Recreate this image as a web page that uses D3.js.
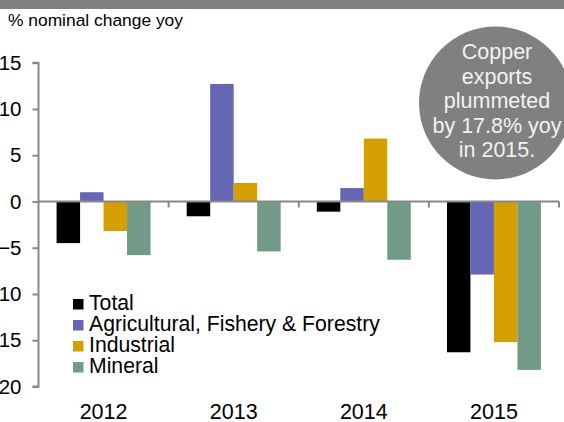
<!DOCTYPE html>
<html>
<head>
<meta charset="utf-8">
<script src="https://cdn.jsdelivr.net/npm/d3@7"></script>
<style>
  html, body { margin: 0; padding: 0; background: #fff; }
  svg { display: block; font-family: "Liberation Sans", Arial, sans-serif; }
</style>
</head>
<body>
<svg id="chart" width="564" height="422"></svg>
<script>
const years = ["2012", "2013", "2014", "2015"];
const seriesNames = ["Total", "Agricultural, Fishery & Forestry", "Industrial", "Mineral"];
const totalValues = [-4.5, -1.6, -1.1, -16.3];
const agriValues = [1.0, 12.7, 1.45, -7.9];
const industrialValues = [-3.2, 2.0, 6.8, -15.2];
const mineralValues = [-5.8, -5.4, -6.3, -18.2];
const yTicks = [15, 10, 5, 0, -5, -10, -15, -20];
const colors = ["#000000", "#6566b4", "#d49f00", "#729a88"];
const subtitle = "% nominal change yoy";
const noteLines = ["Copper", "exports", "plummeted", "by 17.8% yoy", "in 2015."];

const seriesValues = [totalValues, agriValues, industrialValues, mineralValues];

const svg = d3.select("#chart");

// top banner strip
svg.append("rect").attr("x", 0).attr("y", 0).attr("width", 564).attr("height", 9).attr("fill", "#808080");

svg.append("text").attr("x", 8).attr("y", 26).attr("font-size", 17.4).attr("fill", "#000").text(subtitle);

const x0 = d3.scaleBand().domain(years).range([38.5, 559]).padding(0);
const x1 = d3.scaleBand().domain(d3.range(seriesNames.length)).range([0, x0.bandwidth()]).paddingInner(0).paddingOuter(0.77);
const y = d3.scaleLinear().domain([-20, 15]).range([386.5, 62.7]);

// bars
years.forEach((yr, i) => {
  seriesValues.forEach((vals, s) => {
    const v = vals[i];
    svg.append("rect")
      .attr("x", x0(yr) + x1(s))
      .attr("width", x1.bandwidth())
      .attr("y", y(Math.max(0, v)))
      .attr("height", Math.abs(y(v) - y(0)))
      .attr("fill", colors[s]);
  });
});

// y axis
const yAxis = d3.axisLeft(y).tickValues(yTicks).tickSize(6).tickPadding(11).tickFormat(d3.format("d"));
const gy = svg.append("g").attr("transform", "translate(38.5,0)").call(yAxis);
gy.select(".domain").attr("stroke", "#888").attr("stroke-width", 2).attr("d", `M-6,${y(15)}H0V${y(-20)}H-6`);
gy.selectAll(".tick line").attr("stroke", "#888").attr("stroke-width", 2);
gy.selectAll(".tick text").attr("font-size", 20.5).attr("fill", "#000").attr("font-family", "Liberation Sans, Arial, sans-serif");

// zero line with category ticks
const xAxis = d3.axisBottom(x0).tickSize(0).tickFormat("");
const gx = svg.append("g").attr("transform", `translate(0,${y(0)})`).call(xAxis);
gx.select(".domain").remove();
gx.append("line").attr("x1", 38.5).attr("x2", 559).attr("y1", 0).attr("y2", 0).attr("stroke", "#888").attr("stroke-width", 2);
years.forEach(yr => {
  const xb = x0(yr) + x0.bandwidth();
  gx.append("line").attr("x1", xb).attr("x2", xb).attr("y1", 0).attr("y2", 6).attr("stroke", "#888").attr("stroke-width", 2);
});

// category labels at bottom
svg.append("g").selectAll("text").data(years).join("text")
  .attr("x", d => x0(d) + x0.bandwidth() / 2)
  .attr("y", 419)
  .attr("text-anchor", "middle")
  .attr("font-size", 21.5)
  .attr("fill", "#000")
  .text(d => d);

// legend
const legend = svg.append("g").attr("transform", "translate(73,0)");
seriesNames.forEach((name, s) => {
  const base = 310 + s * 21;
  legend.append("rect").attr("x", 0).attr("y", base - 11).attr("width", 10.5).attr("height", 10.5).attr("fill", colors[s]);
  legend.append("text").attr("x", 16).attr("y", base).attr("font-size", 21.2).attr("fill", "#000").text(name);
});

// annotation circle
svg.append("circle").attr("cx", 495.5).attr("cy", 103).attr("r", 76.5).attr("fill", "#808080");
svg.append("g").selectAll("text").data(noteLines).join("text")
  .attr("x", 497)
  .attr("y", (d, i) => 59 + i * 24.5)
  .attr("text-anchor", "middle")
  .attr("font-size", 21.5)
  .attr("fill", "#f2f2f2")
  .text(d => d);
</script>
</body>
</html>
